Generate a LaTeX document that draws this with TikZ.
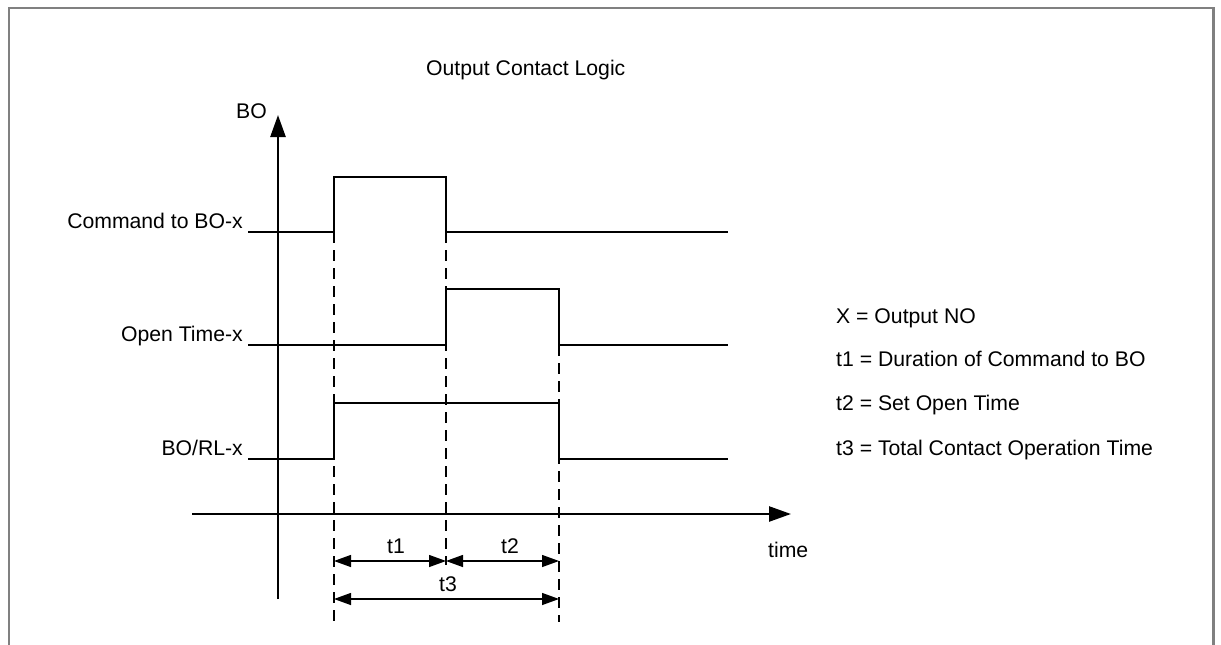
\documentclass[tikz,border=0pt]{standalone}
\usepackage{fontspec}
\setmainfont{Liberation Sans}
\usetikzlibrary{arrows.meta}
\usetikzlibrary{math}
\definecolor{framegray}{RGB}{128,128,128}

\tikzset{
  wave/.style={line width=2.4},
  guide/.style={line width=2.7, dash pattern=on 11pt off 7pt},
  axis/.style={line width=2.5, -{Triangle[length=22pt,width=15pt]}},
  span/.style={line width=1.3, {Triangle[length=17pt,width=12pt]}-{Triangle[length=17pt,width=12pt]}},
  lbl/.style={inner sep=0, font=\fontsize{21.2}{25}\selectfont}
}

\begin{document}
\begin{tikzpicture}[x=1pt, y=-1pt]
\tikzmath{
\tA=334; \tB=446; \tC=559;
\xs=248; \xe=728;
\yC=232; \yO=345; \yR=459;
}
\useasboundingbox (0,0) rectangle (1221,645);
\draw[framegray, line width=2.5] (9,650) -- (9,8) -- (1213.5,8) -- (1213.5,650);

\node[lbl, anchor=base west] (title) at (426,75) {Output Contact Logic};

% axes
\coordinate (O) at (278,599);
\coordinate (ytop) at (278,115);
\coordinate (t0) at (192,514);
\coordinate (tend) at (791,514);
\draw[axis] (O) -- (ytop);
\draw[axis] (t0) -- (tend);
\node[lbl, anchor=base east] (bo) at (267,118) {BO};
\node[lbl, anchor=base west] (time) at (768,557) {time};

% signals
\node[lbl, anchor=base east] (cmd) at (243,228) {Command to BO-x};
\node[lbl, anchor=base east] (open) at (243,341) {Open Time-x};
\node[lbl, anchor=base east] (borl) at (243,455) {BO/RL-x};

\draw[wave] (\xs,\yC) -- (\tA,\yC) -- (\tA,177) -- (\tB,177) -- (\tB,\yC) -- (\xe,\yC);
\draw[wave] (\xs,\yO) -- (\tB,\yO) -- (\tB,289) -- (\tC,289) -- (\tC,\yO) -- (\xe,\yO);
\draw[wave] (\xs,\yR) -- (\tA,\yR) -- (\tA,403) -- (\tC,403) -- (\tC,\yR) -- (\xe,\yR);

% guides
\draw[guide] (\tA,\yC) -- (\tA,627);
\draw[guide] (\tB,\yC) -- (\tB,565);
\draw[guide] (\tC,\yO) -- (\tC,622);

% spans
\coordinate (s1a) at (\tA,561);
\coordinate (s1b) at (\tB,561);
\coordinate (s2b) at (\tC,561);
\coordinate (s3a) at (\tA,599);
\coordinate (s3b) at (\tC,599);
\draw[span] (s1a) -- (s1b);
\draw[span] (s1b) -- (s2b);
\draw[span] (s3a) -- (s3b);
\node[lbl, anchor=base] (t1) at (396,553) {t1};
\node[lbl, anchor=base] (t2) at (510,553) {t2};
\node[lbl, anchor=base] (t3) at (448,591) {t3};

% legend
\node[lbl, anchor=base west] (leg0) at (836,323) {X = Output NO};
\node[lbl, anchor=base west] (leg1) at (836,366) {t1 = Duration of Command to BO};
\node[lbl, anchor=base west] (leg2) at (836,410) {t2 = Set Open Time};
\node[lbl, anchor=base west] (leg3) at (836,455) {t3 = Total Contact Operation Time};

\end{tikzpicture}
\end{document}
